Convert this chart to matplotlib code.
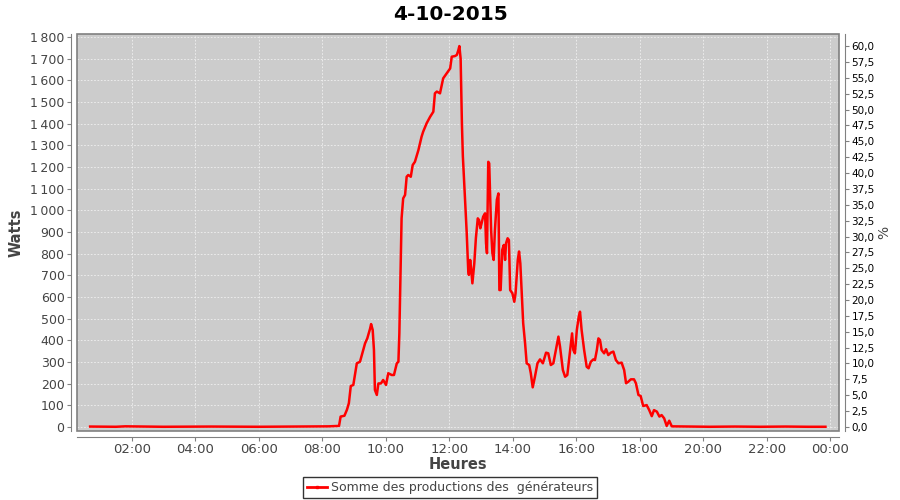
import matplotlib
matplotlib.use("Agg")
import matplotlib.pyplot as plt
from matplotlib.patches import Rectangle
from matplotlib.lines import Line2D
from matplotlib.ticker import FuncFormatter, MultipleLocator

# Données (heure décimale, puissance en W)
heures = [0.69, 1.5, 1.8, 3.0, 4.5, 6.0, 7.0, 7.8, 8.2, 8.53,
          8.58, 8.70, 8.78, 8.84, 8.90, 8.98, 9.09, 9.19, 9.28, 9.35,
          9.42, 9.51, 9.54, 9.59, 9.63, 9.66, 9.72, 9.77, 9.85, 9.92,
          10.01, 10.08, 10.19, 10.26, 10.35, 10.40, 10.43, 10.45, 10.50, 10.55,
          10.61, 10.66, 10.71, 10.79, 10.85, 10.92, 11.03, 11.13, 11.18, 11.29,
          11.40, 11.50, 11.55, 11.61, 11.71, 11.81, 11.92, 12.03, 12.08, 12.18,
          12.24, 12.29, 12.32, 12.36, 12.40, 12.43, 12.47, 12.50, 12.55, 12.60,
          12.62, 12.66, 12.69, 12.73, 12.79, 12.84, 12.90, 12.94, 12.98, 13.02,
          13.07, 13.13, 13.16, 13.19, 13.23, 13.26, 13.32, 13.36, 13.40, 13.44,
          13.50, 13.55, 13.58, 13.62, 13.67, 13.72, 13.76, 13.79, 13.84, 13.88,
          13.92, 13.99, 14.05, 14.09, 14.16, 14.20, 14.24, 14.28, 14.33, 14.39,
          14.44, 14.52, 14.57, 14.63, 14.70, 14.78, 14.86, 14.95, 15.05, 15.12,
          15.20, 15.28, 15.36, 15.44, 15.49, 15.58, 15.65, 15.72, 15.81, 15.87,
          15.91, 15.96, 16.02, 16.08, 16.12, 16.17, 16.25, 16.33, 16.39, 16.46,
          16.54, 16.59, 16.65, 16.70, 16.75, 16.80, 16.88, 16.94, 17.01, 17.09,
          17.17, 17.25, 17.33, 17.43, 17.51, 17.57, 17.64, 17.72, 17.82, 17.88,
          17.96, 18.03, 18.11, 18.22, 18.30, 18.38, 18.45, 18.54, 18.62, 18.69,
          18.77, 18.85, 18.93, 19.01, 19.5, 20.2, 21.0, 21.8, 22.6, 23.3, 23.85]
watts = [2, 1, 3, 1, 2, 1, 2, 3, 3, 5,
         48, 52, 80, 110, 189, 194, 294, 301, 348, 386,
         409, 455, 475, 448, 355, 171, 148, 201, 201, 217,
         194, 248, 240, 240, 294, 301, 432, 586, 963, 1055,
         1071, 1155, 1163, 1155, 1209, 1224, 1278, 1340, 1363, 1402,
         1432, 1455, 1540, 1548, 1540, 1609, 1632, 1655, 1709, 1712,
         1717, 1740, 1758, 1700, 1400, 1250, 1130, 1030, 900, 720,
         702, 771, 732, 663, 755, 871, 963, 955, 917, 940,
         971, 986, 848, 802, 1224, 1217, 909, 802, 771, 909,
         1048, 1078, 632, 632, 817, 840, 771, 848, 871, 863,
         632, 617, 578, 617, 771, 810, 755, 632, 479, 386,
         294, 286, 248, 183, 232, 294, 312, 294, 343, 340,
         286, 294, 355, 417, 371, 263, 232, 240, 355, 432,
         355, 340, 448, 509, 532, 448, 355, 278, 271, 301,
         312, 309, 355, 409, 401, 355, 340, 359, 332, 343,
         348, 309, 294, 297, 263, 202, 209, 220, 220, 202,
         148, 143, 97, 101, 78, 50, 78, 71, 48, 55,
         40, 5, 29, 3, 2, 1, 2, 1, 2, 1, 1]

ticks_heures = [2, 4, 6, 8, 10, 12, 14, 16, 18, 20, 22, 24]
labels_heures = ["02:00", "04:00", "06:00", "08:00", "10:00", "12:00",
                 "14:00", "16:00", "18:00", "20:00", "22:00", "00:00"]

gris_txt = "#444444"

fig = plt.figure(figsize=(9, 5), dpi=100)
ax = fig.add_axes([77 / 900, 69 / 500, 762 / 900, 397 / 500])
ax.set_facecolor("#cccccc")

ax.plot(heures, watts, color="#ff0000", lw=1.8, zorder=3)

ax.set_xlim(0.277, 24.277)
ax.set_ylim(-18.5, 1813.8)
ax.set_xticks(ticks_heures)
ax.set_xticklabels(labels_heures)
ax.yaxis.set_major_locator(MultipleLocator(100))
ax.yaxis.set_major_formatter(FuncFormatter(lambda v, p: f"{int(v):,}".replace(",", "\u202f")))

ax.grid(True, color="#f0f0f0", ls=(0, (2, 2)), lw=0.6)
ax.set_axisbelow(True)

for s in ["top", "right"]:
    ax.spines[s].set_visible(False)
for s in ["left", "bottom"]:
    ax.spines[s].set_position(("outward", 4))
    ax.spines[s].set_color("#808080")
ax.tick_params(axis="both", colors="#808080", labelcolor=gris_txt, length=3)
ax.tick_params(axis="x", pad=1.5, labelsize=9.5)
ax.tick_params(axis="y", pad=2, labelsize=9)

# cadre de la zone de tracé
ax.add_patch(Rectangle((0, 0), 1, 1, transform=ax.transAxes, fill=False,
                       ec="#808080", lw=1.2, zorder=4, clip_on=False))

ax.set_xlabel("Heures", fontsize=10.5, fontweight="bold", color=gris_txt, labelpad=1)
ax.set_ylabel("Watts", fontsize=10.5, fontweight="bold", color=gris_txt, labelpad=5)
fig.suptitle("4-10-2015", x=0.5, y=0.972, va="center", fontsize=14.5, fontweight="bold")

# axe de droite en %
ax2 = ax.twinx()
ax2.set_ylim(-0.63, 61.89)
ax2.yaxis.set_major_locator(MultipleLocator(2.5))
ax2.yaxis.set_major_formatter(FuncFormatter(lambda v, p: f"{v:.1f}".replace(".", ",")))
for s in ["top", "left", "bottom"]:
    ax2.spines[s].set_visible(False)
ax2.spines["right"].set_position(("outward", 4))
ax2.spines["right"].set_color("#808080")
ax2.tick_params(axis="y", colors="#808080", labelcolor="black", labelsize=7.5, length=3, pad=2)
ax2.set_ylabel("%", fontsize=10, color=gris_txt, labelpad=2)

handle = Line2D([], [], color="#ff0000", lw=2, marker="s", markersize=2)
leg = fig.legend([handle], ["Somme des productions des  générateurs"],
                 loc="center", bbox_to_anchor=(450 / 900, 1 - 487.5 / 500), fontsize=9,
                 frameon=True, fancybox=False, edgecolor="black",
                 handlelength=1.6, handletextpad=0.3, borderpad=0.3,
                 borderaxespad=0)
leg.get_frame().set_linewidth(1.0)
for t in leg.get_texts():
    t.set_color(gris_txt)

fig.savefig("out.png", dpi=100)
